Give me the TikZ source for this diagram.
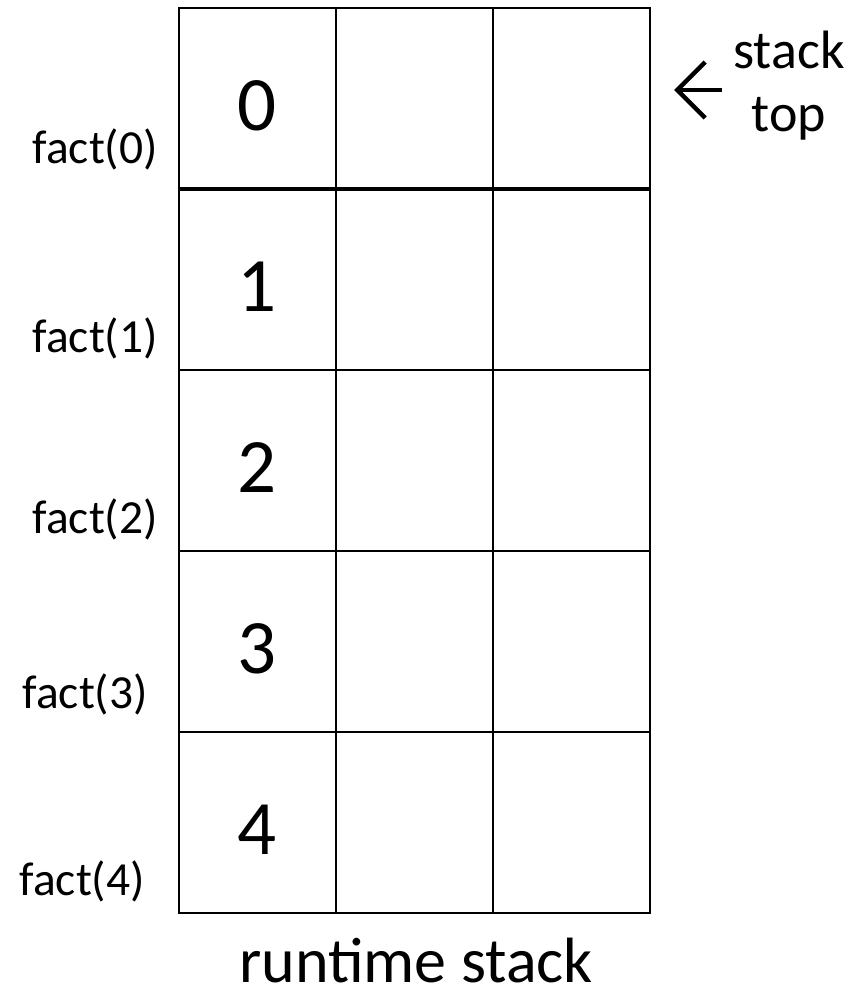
\documentclass[tikz,border=0pt]{standalone}
\usepackage{fontspec}
\setmainfont{Carlito}
\usetikzlibrary{arrows.meta, positioning}

\begin{document}
\begin{tikzpicture}[
    x=1pt, y=-1pt,
    cell/.style={draw=black, line width=2pt, inner sep=0pt, outer sep=0pt,
                 minimum width=157pt, minimum height=181pt, anchor=north west},
    num/.style={font=\fontsize{77}{77}\selectfont, inner sep=0pt, anchor=base},
    callname/.style={font=\fontsize{47.5}{52}\selectfont, inner sep=0pt, anchor=base east},
    caption/.style={font=\fontsize{64}{70}\selectfont, inner sep=0pt, anchor=base},
    toplabel/.style={font=\fontsize{54}{63}\selectfont, align=center, inner sep=0pt},
    pointer/.style={-{Straight Barb[length=28pt, width=56pt]}, line width=4.5pt}
  ]
  \useasboundingbox (0,0) rectangle (858,993);

  % ===== STACK FRAMES =====
  \foreach \i in {0,...,4} {
    \node[cell] (a\i) at (179, 8+181*\i) {};
    \node[cell, right=0pt of a\i] (b\i) {};
    \node[cell, right=0pt of b\i] (c\i) {};
    \node[num] (n\i) at (257.5, 130+181*\i) {\i};
  }
  % top frame border
  \draw[line width=3.5pt] (a0.south west) -- (c0.south east);

  % ===== CALL LABELS =====
  \node[callname] (f0) at (158, 163) {fact(0)};
  \node[callname] (f1) at (158, 352) {fact(1)};
  \node[callname] (f2) at (158, 533) {fact(2)};
  \node[callname] (f3) at (148, 708) {fact(3)};
  \node[callname] (f4) at (145, 895) {fact(4)};

  % ===== STACK TOP MARKER =====
  \node[toplabel] (stacktop) at (789, 86) {stack\\top};
  \coordinate (toptip) at (674, 90);
  \draw[pointer] (722, 90 |- toptip) -- (toptip);

  % ===== CAPTION =====
  \node[caption] (runtime) at (416, 982) {runtime stack};

\end{tikzpicture}
\end{document}
